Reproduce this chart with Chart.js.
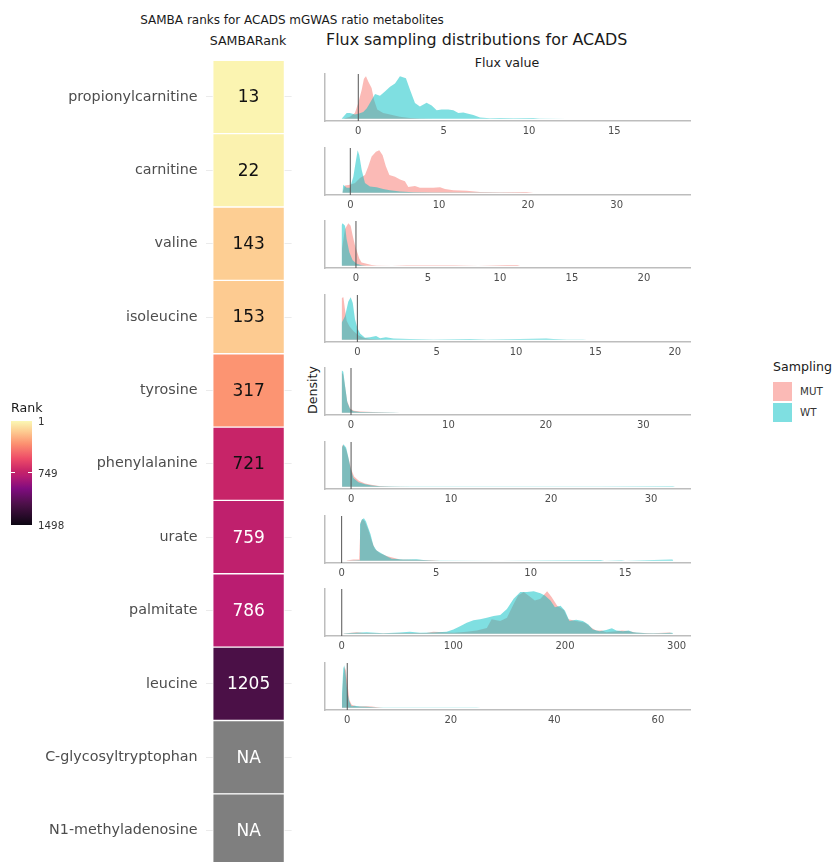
<!DOCTYPE html>
<html>
<head>
<meta charset="utf-8">
<script src="https://cdn.jsdelivr.net/npm/chart.js@4.4.1/dist/chart.umd.min.js"></script>
<style>
  body { margin:0; background:#fff; font-family:'DejaVu Sans', sans-serif; }
  #page { position:relative; width:835px; height:862px; overflow:hidden; background:#fff; }
  #page canvas { position:absolute; }
  .t { position:absolute; white-space:nowrap; line-height:1; color:#1a1a1a; }
  .k { position:absolute; }
</style>
</head>
<body>
<div id="page">
  <div class="t" style="left:292px;top:14px;transform:translateX(-50%);font-size:12px">SAMBA ranks for ACADS mGWAS ratio metabolites</div>
  <div class="t" style="left:248px;top:35px;transform:translateX(-50%);font-size:12.6px">SAMBARank</div>
  <div class="t" style="left:326px;top:32px;font-size:15.9px">Flux sampling distributions for ACADS</div>
  <div class="t" style="left:507px;top:57px;transform:translateX(-50%);font-size:12.6px">Flux value</div>
  <div class="t" style="left:313px;top:390px;transform:translate(-50%,-50%) rotate(-90deg);font-size:12.6px">Density</div>
</div>

<script>
// ── heatmap data ──
const METABOLITES = ['propionylcarnitine', 'carnitine', 'valine', 'isoleucine', 'tyrosine',
  'phenylalanine', 'urate', 'palmitate', 'leucine', 'C-glycosyltryptophan', 'N1-methyladenosine'];
const SAMBA_RANK = [13, 22, 143, 153, 317, 721, 759, 786, 1205, null, null];
const RANK_MIN = 1, RANK_MAX = 1498;
const RANK_TICKS = [1, 749, 1498];

// ── flux sampling densities, [flux, scaled density] ──
const propMUT = [[-0.88,0],[-0.49,0.05],[-0.2,0.14],[0,0.37],[0.2,0.68],[0.33,0.94],[0.45,1.0],[0.59,0.87],[0.78,0.72],[0.92,0.45],[1.11,0.22],[1.46,0.14],[1.86,0.1],[2.44,0.05],[3.03,0.02],[3.6,0.01],[4.4,0]];
const propWT = [[-0.98,0],[-0.68,0.14],[-0.49,0.14],[-0.2,0.1],[0,0.12],[0.29,0.16],[0.5,0.25],[0.68,0.37],[0.98,0.58],[1.27,0.54],[1.56,0.64],[1.86,0.75],[2.15,0.83],[2.44,1.0],[2.79,0.95],[3.03,0.68],[3.32,0.37],[3.61,0.29],[4.0,0.38],[4.3,0.31],[4.59,0.2],[4.88,0.22],[5.27,0.22],[5.57,0.2],[5.86,0.14],[6.15,0.15],[6.44,0.12],[6.74,0.09],[7.13,0.03],[7.71,0.015],[8.3,0.02],[9.1,0.015],[10.25,0.02],[10.6,0.01],[12.2,0.003],[18.5,0]];
const carnMUT = [[-0.9,0],[-0.6,0.17],[-0.04,0.19],[0.53,0.23],[1.09,0.35],[1.65,0.42],[2.03,0.62],[2.4,0.85],[2.89,0.96],[3.26,1.0],[3.64,0.88],[4.0,0.62],[4.4,0.42],[5.03,0.38],[5.6,0.31],[6.15,0.27],[6.53,0.14],[7.28,0.16],[7.84,0.12],[8.6,0.12],[9.34,0.12],[10.1,0.13],[10.66,0.09],[11.6,0.06],[13.1,0.05],[14.6,0.02],[16.85,0.015],[19.85,0.02],[20.6,0]];
const carnWT = [[-0.9,0],[-0.79,0.19],[-0.41,0.12],[-0.04,0.12],[0.34,0.38],[0.64,0.77],[0.83,1.0],[1.01,0.88],[1.28,0.54],[1.65,0.23],[2.21,0.15],[2.96,0.13],[3.7,0.09],[4.47,0.06],[5.6,0.03],[7.1,0.015],[9.3,0.008],[15.3,0.008],[20.6,0]];
const valMUT = [[-0.97,0.4],[-0.76,0.86],[-0.53,1.0],[-0.37,0.94],[-0.23,0.71],[-0.07,0.48],[0.09,0.32],[0.23,0.17],[0.39,0.08],[0.74,0.05],[1.09,0.02],[1.44,0.01],[2.5,0.005],[3.5,0.015],[5.0,0.015],[6.8,0.015],[8.5,0.005],[10.5,0.02],[11.2,0.02],[11.4,0]];
const valWT = [[-1.0,0.95],[-0.93,1.0],[-0.76,0.94],[-0.65,0.63],[-0.46,0.32],[-0.23,0.13],[0.05,0.05],[0.4,0.015],[0.74,0]];
const isoMUT = [[-0.99,0.98],[-0.88,1.0],[-0.78,0.71],[-0.67,0.44],[-0.5,0.32],[-0.25,0.21],[0.06,0.11],[0.38,0.05],[0.8,0.02],[1.43,0.008],[1.85,0]];
const isoWT = [[-0.99,0.4],[-0.78,0.55],[-0.57,0.9],[-0.42,1.0],[-0.29,0.86],[-0.15,0.48],[0,0.28],[0.17,0.15],[0.48,0.05],[0.8,0.06],[1.18,0.09],[1.43,0.04],[1.8,0.06],[2.27,0.03],[3.3,0.02],[4.8,0.008],[7.1,0.02],[8.15,0.008],[10.25,0.02],[11.9,0.03],[12.35,0.02],[13.2,0.008],[14.2,0.008],[14.45,0]];
const tyrMUT = [[-0.96,0.95],[-0.8,0.9],[-0.6,0.6],[-0.4,0.28],[-0.1,0.1],[0.3,0.05],[1.0,0.03],[2.2,0.02],[4.0,0.01],[5.0,0]];
const tyrWT = [[-0.96,1.0],[-0.79,0.96],[-0.62,0.65],[-0.38,0.25],[-0.1,0.09],[0.24,0.04],[0.92,0.02],[2.3,0.015],[4.3,0.008],[5,0]];
const pheMUT = [[-0.9,0.97],[-0.75,0.97],[-0.5,0.88],[-0.25,0.66],[0,0.42],[0.3,0.24],[0.8,0.14],[1.4,0.08],[2.0,0.05],[2.8,0.02],[4,0.01],[6,0.005],[8,0]];
const pheWT = [[-0.9,0.92],[-0.77,1.0],[-0.5,0.92],[-0.27,0.69],[-0.03,0.41],[0.23,0.21],[0.74,0.11],[1.4,0.06],[2.07,0.03],[2.9,0.016],[4.9,0.008],[6.6,0.008],[11.6,0.008],[25,0.008],[32.2,0.016],[32.4,0]];
const urateMUT = [[0.26,0.008],[0.62,0.03],[0.93,0.03],[1.0,0.89],[1.1,0.98],[1.23,0.92],[1.41,0.73],[1.59,0.47],[1.76,0.28],[2.03,0.18],[2.42,0.11],[3.09,0.03],[4.85,0.015],[5.2,0]];
const urateWT = [[0.26,0],[0.93,0.015],[0.97,0.85],[1.06,0.96],[1.18,1.0],[1.29,0.92],[1.41,0.77],[1.53,0.62],[1.68,0.36],[1.85,0.24],[2.12,0.17],[2.38,0.11],[2.65,0.05],[2.91,0.045],[3.26,0.03],[3.97,0.04],[4.32,0.02],[4.85,0.008],[8.4,0],[13.7,0.02],[13.9,0],[14.8,0.015],[15,0],[17.5,0.03],[17.55,0]];
const palmMUT = [[1.5,0.01],[13.4,0.04],[19.4,0.02],[37,0.016],[52,0.02],[76,0.02],[82,0.05],[91,0.04],[100,0.024],[112,0.05],[121,0.08],[130,0.14],[134.3,0.34],[142,0.3],[148,0.38],[154,0.7],[158,0.9],[163,0.98],[169,0.86],[173,0.78],[178,0.82],[184,1.0],[188,0.86],[193,0.66],[199,0.56],[203,0.34],[210,0.3],[218,0.26],[224,0.14],[228,0.08],[233,0.08],[237,0.04],[246,0.06],[251,0.08],[258,0.06],[264,0.024],[279,0.016],[294,0.03],[297,0]];
const palmWT = [[1.5,0.01],[7.5,0.02],[22.4,0.04],[37.3,0.016],[52,0.03],[61,0.05],[70,0.024],[82,0.03],[94,0.05],[100,0.1],[106,0.18],[112,0.26],[118,0.32],[124,0.34],[130,0.38],[136,0.42],[142,0.44],[148,0.58],[154,0.82],[160,0.98],[166,0.98],[172,1.0],[178,0.95],[182,0.9],[187,0.78],[191,0.62],[196,0.66],[200,0.54],[204,0.3],[210,0.33],[216,0.3],[221,0.22],[225,0.1],[231,0.06],[237,0.09],[242,0.13],[246,0.08],[252,0.06],[257,0.08],[261,0.04],[273,0.016],[285,0.016],[296,0.024],[297,0]];
const leuMUT = [[-1.03,0.15],[-0.77,0.72],[-0.52,0.96],[-0.26,0.88],[0.06,0.55],[0.39,0.19],[0.84,0.07],[1.8,0.03],[3.7,0.04],[4.7,0.03],[6.3,0.008],[7,0]];
const leuWT = [[-1.03,0.31],[-0.77,0.92],[-0.58,1.0],[-0.32,0.8],[0,0.39],[0.39,0.15],[0.84,0.04],[1.48,0.05],[2.45,0.03],[3.74,0.025],[5.7,0.008],[19.2,0.008],[25,0.008],[25.7,0]];

// x tick labels per panel
const propTicks = [0, 5, 10, 15];
const carnTicks = [0, 10, 20, 30];
const valTicks = [0, 5, 10, 15, 20];
const isoTicks = [0, 5, 10, 15, 20];
const tyrTicks = [0, 10, 20, 30];
const pheTicks = [0, 10, 20, 30];
const urateTicks = [0, 5, 10, 15];
const palmTicks = [0, 100, 200, 300];
const leuTicks = [0, 20, 40, 60];

const VLINE_X = 0;  // geom_vline(xintercept = 0)

// ── scales & styles ──
const FONT = "'DejaVu Sans', sans-serif";
const COL = { mut:'rgba(248,118,109,0.5)', wt:'rgba(0,191,196,0.5)', na:'#7f7f7f' };
// colour ramp of the Rank scale (position 0 = rank 1)
const RAMP_POS = [0, 0.1, 0.22, 0.36, 0.48, 0.53, 0.65, 0.8, 1];
const RAMP_COL = ['#fbf8b4', '#fdcc91', '#fc9070', '#ee4c68', '#c72468', '#b81c72', '#800c7f', '#4c1048', '#0c0612'];

const page = document.getElementById('page');

function hex2rgb(h) { return [1,3,5].map(i => parseInt(h.substr(i,2),16)); }
function rankColor(r) {
  if (r === null) return COL.na;
  const t = (r - RANK_MIN) / (RANK_MAX - RANK_MIN);
  let k = 0;
  while (k < RAMP_POS.length - 2 && t > RAMP_POS[k+1]) k++;
  const f = (t - RAMP_POS[k]) / (RAMP_POS[k+1] - RAMP_POS[k]);
  const a = hex2rgb(RAMP_COL[k]), b = hex2rgb(RAMP_COL[k+1]);
  return 'rgb(' + a.map((v,j) => Math.round(v + (b[j]-v)*f)).join(',') + ')';
}

// ─────────────────────────────────────────────
// Heatmap des rangs SAMBA (barres flottantes = tuiles)
// ─────────────────────────────────────────────
const tileText = {
  id:'tileText',
  afterDatasetsDraw(chart) {
    const ctx = chart.ctx;
    chart.getDatasetMeta(0).data.forEach((bar, i) => {
      const r = SAMBA_RANK[i];
      ctx.save();
      ctx.font = '17px ' + FONT;
      ctx.fillStyle = (r !== null && r < RANK_MAX / 2) ? '#111' : '#fff';
      ctx.textAlign = 'center'; ctx.textBaseline = 'middle';
      ctx.fillText(r === null ? 'NA' : String(r), (bar.x + bar.base) / 2, bar.y + 1);
      ctx.restore();
    });
  }
};

const hm = document.createElement('canvas');
hm.width = 300; hm.height = 890;
hm.style.left = '0px'; hm.style.top = '0px';
page.appendChild(hm);
new Chart(hm, {
  type:'bar',
  data:{ labels: METABOLITES, datasets:[{
    data: METABOLITES.map(() => [-0.5, 0.5]),
    backgroundColor: SAMBA_RANK.map(rankColor),
    borderColor:'#fff', borderWidth:1, borderSkipped:false,
    barPercentage:1, categoryPercentage:1
  }]},
  options:{
    indexAxis:'y', responsive:false, animation:false, events:[],
    layout:{ padding:{ left:0, right:8.4, top:60.3, bottom:22.8 } },
    plugins:{ legend:{display:false}, tooltip:{enabled:false} },
    scales:{
      x:{ type:'linear', min:-0.6, max:0.6, display:false },
      y:{ afterFit:s => { s.width = 205.6; },
          grid:{ offset:false, color:'#ebebeb', drawTicks:false },
          border:{ display:false },
          ticks:{ padding:8, color:'#4d4d4d', font:{ family:FONT, size:14.3 } } }
    }
  },
  plugins:[tileText]
});

// ─────────────────────────────────────────────
// Densités de flux (un graphique par métabolite)
// ─────────────────────────────────────────────
const PANELS = [
  { mut:propMUT, wt:propWT, ticks:propTicks, lim:[-1.95, 19.43] },
  { mut:carnMUT, wt:carnWT, ticks:carnTicks, lim:[-2.85, 38.25] },
  { mut:valMUT, wt:valWT, ticks:valTicks, lim:[-2.15, 23.2] },
  { mut:isoMUT, wt:isoWT, ticks:isoTicks, lim:[-2.04, 20.96] },
  { mut:tyrMUT, wt:tyrWT, ticks:tyrTicks, lim:[-2.67, 34.8] },
  { mut:pheMUT, wt:pheWT, ticks:pheTicks, lim:[-2.61, 33.9] },
  { mut:urateMUT, wt:urateWT, ticks:urateTicks, lim:[-0.88, 18.43] },
  { mut:palmMUT, wt:palmWT, ticks:palmTicks, lim:[-15, 312] },
  { mut:leuMUT, wt:leuWT, ticks:leuTicks, lim:[-4.3, 66.2] }
];

const toXY = arr => arr.map(p => ({ x:p[0], y:p[1] }));

PANELS.forEach((p, i) => {
  const cv = document.createElement('canvas');
  cv.width = 400; cv.height = 71;
  cv.style.left = '300px'; cv.style.top = (70 + 73.6 * i) + 'px';
  page.appendChild(cv);
  new Chart(cv, {
    type:'line',
    data:{ datasets:[
      { data:[{x:VLINE_X, y:-0.05}, {x:VLINE_X, y:1.05}], borderColor:'#555', borderWidth:1, pointRadius:0, fill:false },
      { label:'WT', data:toXY(p.wt), borderWidth:0, pointRadius:0, fill:'origin', backgroundColor:COL.wt, tension:0 },
      { label:'MUT', data:toXY(p.mut), borderWidth:0, pointRadius:0, fill:'origin', backgroundColor:COL.mut, tension:0 }
    ]},
    options:{
      responsive:false, animation:false, events:[],
      layout:{ padding:{ left:25, right:10, top:4, bottom:0 } },
      plugins:{ legend:{display:false}, tooltip:{enabled:false} },
      scales:{
        x:{ type:'linear', min:p.lim[0], max:p.lim[1],
            afterBuildTicks:s => { s.ticks = p.ticks.map(v => ({ value:v })); },
            afterFit:s => { s.height = 20; },
            grid:{ display:false, drawTicks:false },
            border:{ color:'#bdbdbd', width:1.5 },
            ticks:{ padding:4, color:'#4d4d4d', autoSkip:false, maxRotation:0, font:{ family:FONT, size:10 } } },
        y:{ min:-0.05, max:1.05,
            afterFit:s => { s.width = 0; },
            ticks:{ display:false },
            grid:{ display:false, drawTicks:false },
            border:{ color:'#bdbdbd', width:1.5 } }
      }
    }
  });
});

// ─────────────────────────────────────────────
// Légendes (Rank + Sampling)
// ─────────────────────────────────────────────
function addText(txt, x, y, size, extra) {
  const d = document.createElement('div');
  d.className = 't'; d.textContent = txt;
  d.style.left = x + 'px'; d.style.top = y + 'px'; d.style.fontSize = size + 'px';
  if (extra) Object.assign(d.style, extra);
  page.appendChild(d);
}

// Rank colourbar
const CB = { x:11, y:421, w:21, h:104 };
addText('Rank', 11, 402, 12.6);
const bar = document.createElement('div');
bar.className = 'k';
Object.assign(bar.style, { left:CB.x+'px', top:CB.y+'px', width:CB.w+'px', height:CB.h+'px',
  background:'linear-gradient(to bottom,' + RAMP_COL.map((c,k) => c + ' ' + (RAMP_POS[k]*100) + '%').join(',') + ')' });
page.appendChild(bar);
RANK_TICKS.forEach(v => {
  const y = CB.y + (v - RANK_MIN) / (RANK_MAX - RANK_MIN) * CB.h;
  addText(String(v), CB.x + CB.w + 6, y - 5, 10.3, { color:'#333' });
  if (v !== RANK_MIN && v !== RANK_MAX) {
    [CB.x, CB.x + CB.w - 4].forEach(x0 => {
      const m = document.createElement('div'); m.className = 'k';
      Object.assign(m.style, { left:x0+'px', top:(y-0.5)+'px', width:'4px', height:'1px', background:'#fff' });
      page.appendChild(m);
    });
  }
});

// Sampling legend
addText('Sampling', 773, 361, 12.6);
[['MUT', COL.mut], ['WT', COL.wt]].forEach((e, k) => {
  const sq = document.createElement('div'); sq.className = 'k';
  Object.assign(sq.style, { left:'773px', top:(382 + 20.5*k)+'px', width:'19px', height:'19px', background:e[1] });
  page.appendChild(sq);
  addText(e[0], 800, 386 + 20.5*k, 10.3, { color:'#333' });
});
</script>
</body>
</html>
